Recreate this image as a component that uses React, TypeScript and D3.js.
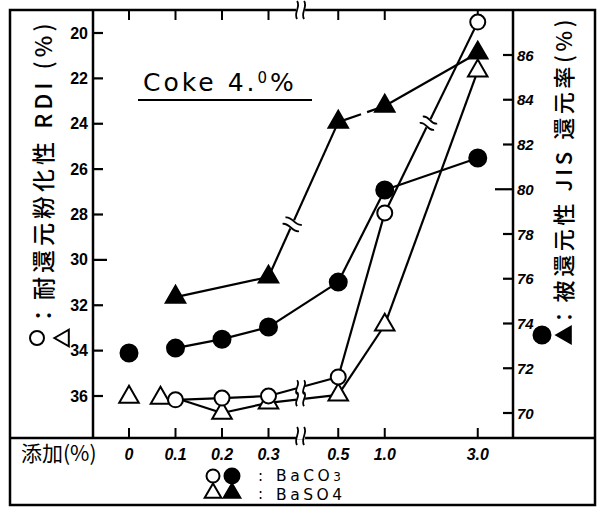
import React from "react";
import * as d3 from "d3";

// ---------- data ----------
const xValues = [0, 0.1, 0.2, 0.3, 0.5, 1.0, 3.0];
const xTickLabels = ["0", "0.1", "0.2", "0.3", "0.5", "1.0", "3.0"];
const leftTicks = [20, 22, 24, 26, 28, 30, 32, 34, 36];
const rightTicks = [70, 72, 74, 76, 78, 80, 82, 84, 86];

const rdiBlank = 36.05; // open triangle at 0 %
const jisBlank = 72.68; // filled circle at 0 %

const addAll = [0.1, 0.2, 0.3, 0.5, 1.0, 3.0];
const rdiBaCO3 = [36.17, 36.09, 36.0, 35.16, 27.93, 19.52];
const rdiBaSO4 = [36.09, 36.75, 36.3, 35.95, 32.87, 21.67];
const jisBaCO3 = [72.9, 73.3, 73.84, 75.85, 79.97, 81.4];
const addSO4Jis = [0.1, 0.3, 0.5, 1.0, 3.0];
const jisBaSO4 = [75.18, 76.08, 83.0, 83.72, 86.09];

// ---------- layout ----------
const W = 600;
const H = 507;
const frame = { l: 10, t: 10, r: 595, b: 505 };
const plot = { l: 93, r: 513, t: 10, b: 438 };
const xSlots = [0, 1, 2, 3, 4.5, 5.5, 7.5];
const slotW = 46.5;
const x0 = 129;

const xScale = d3.scaleLinear().domain(xValues).range(xSlots.map((s) => x0 + s * slotW));
const yL = d3.scaleLinear().domain([20, 36]).range([33, 396]);
const yR = d3.scaleLinear().domain([70, 86]).range([413, 55]);

const LW = 2.2;
const FONT_NUM = "'Liberation Sans', Arial, sans-serif";
const FONT_CJK = "'Noto Sans CJK JP', 'Noto Sans', sans-serif";
const FONT_HAND = "'DejaVu Sans', sans-serif";

type P = [number, number];

function sCurve(c: P, d: P, n: P, L: number, a: number, key: string) {
  const s: P = [c[0] - n[0] * L / 2, c[1] - n[1] * L / 2];
  const e: P = [c[0] + n[0] * L / 2, c[1] + n[1] * L / 2];
  const c1: P = [s[0] + n[0] * L / 3 + d[0] * a, s[1] + n[1] * L / 3 + d[1] * a];
  const c2: P = [s[0] + n[0] * 2 * L / 3 - d[0] * a, s[1] + n[1] * 2 * L / 3 - d[1] * a];
  return (
    <path
      key={key}
      d={`M${s[0]},${s[1]} C${c1[0]},${c1[1]} ${c2[0]},${c2[1]} ${e[0]},${e[1]}`}
      fill="none"
      stroke="#000"
      strokeWidth={1.8}
    />
  );
}

function breakMark(c: P, d: P, L: number, gap: number, key: string, n0?: P) {
  const n: P = n0 || [-d[1], d[0]];
  const a: P = [c[0] - d[0] * gap / 2, c[1] - d[1] * gap / 2];
  const b: P = [c[0] + d[0] * gap / 2, c[1] + d[1] * gap / 2];
  return (
    <g key={key}>
      <line x1={a[0] - d[0]} y1={a[1] - d[1]} x2={b[0] + d[0]} y2={b[1] + d[1]} stroke="#fff" strokeWidth={6} />
      {sCurve(a, d, n, L, 4, key + "a")}
      {sCurve(b, d, n, L, 4, key + "b")}
    </g>
  );
}

type Brk = { kind: "wave"; t: number; L?: number; vertical?: boolean } | { kind: "gap"; t0: number; t1: number };

function segments(pts: P[], breaks: Record<number, Brk>, key: string) {
  const out: any[] = [];
  for (let i = 0; i < pts.length - 1; i++) {
    const p = pts[i];
    const q = pts[i + 1];
    const dx = q[0] - p[0];
    const dy = q[1] - p[1];
    const len = Math.hypot(dx, dy);
    const d: P = [dx / len, dy / len];
    const b = breaks[i];
    const at = (t: number): P => [p[0] + dx * t, p[1] + dy * t];
    if (b && b.kind === "gap") {
      const a = at(b.t0);
      const c = at(b.t1);
      out.push(<line key={key + i + "g1"} x1={p[0]} y1={p[1]} x2={a[0]} y2={a[1]} stroke="#000" strokeWidth={LW} />);
      out.push(<line key={key + i + "g2"} x1={c[0]} y1={c[1]} x2={q[0]} y2={q[1]} stroke="#000" strokeWidth={LW} />);
    } else {
      out.push(<line key={key + i} x1={p[0]} y1={p[1]} x2={q[0]} y2={q[1]} stroke="#000" strokeWidth={LW} />);
      if (b && b.kind === "wave") {
        const c = at(b.t);
        const n: P | undefined = b.vertical ? [0, 1] : undefined;
        const dd: P = b.vertical ? [1, 0] : d;
        out.push(breakMark(c, dd, b.L || 16, 7, key + i + "w", n));
      }
    }
  }
  return out;
}

const triPath = d3.symbol().type(d3.symbolTriangle).size(165)() as string;
const triSmall = d3.symbol().type(d3.symbolTriangle).size(120)() as string;

function Circle({ x, y, filled, r = 8 }: { x: number; y: number; filled: boolean; r?: number }) {
  return <circle cx={x} cy={y} r={filled ? r + 0.5 : r - 0.5} fill={filled ? "#000" : "#fff"} stroke="#000" strokeWidth={2} />;
}
function Tri({ x, y, filled, path = triPath, rot = 0 }: { x: number; y: number; filled: boolean; path?: string; rot?: number }) {
  return (
    <path
      d={path}
      transform={`translate(${x},${y}) rotate(${rot})`}
      fill={filled ? "#000" : "#fff"}
      stroke="#000"
      strokeWidth={2}
      strokeLinejoin="miter"
    />
  );
}

export default function App() {
  const ptsRdiCO3: P[] = addAll.map((a, i) => [xScale(a), yL(rdiBaCO3[i])]);
  const ptsRdiSO4: P[] = addAll.map((a, i) => [xScale(a), yL(rdiBaSO4[i])]);
  const ptsJisCO3: P[] = addAll.map((a, i) => [xScale(a), yR(jisBaCO3[i])]);
  const ptsJisSO4: P[] = addSO4Jis.map((a, i) => [xScale(a), yR(jisBaSO4[i])]);

  const tBreak = 0.46;
  const xBreak = xScale(0.3) + tBreak * (xScale(0.5) - xScale(0.3));

  return (
    <svg width={W} height={H} style={{ position: "absolute", left: 0, top: 0, background: "#fff" }}>
      <rect x={0} y={0} width={W} height={H} fill="#fff" />
      {/* frame */}
      <rect x={frame.l} y={frame.t} width={frame.r - frame.l} height={frame.b - frame.t} fill="none" stroke="#000" strokeWidth={2.5} />
      <line x1={plot.l} y1={plot.t} x2={plot.l} y2={plot.b} stroke="#000" strokeWidth={2.5} />
      <line x1={plot.r} y1={plot.t} x2={plot.r} y2={plot.b} stroke="#000" strokeWidth={2.5} />
      <line x1={frame.l} y1={plot.b} x2={frame.r} y2={plot.b} stroke="#000" strokeWidth={2.5} />

      {/* x ticks top and bottom */}
      {xValues.map((v) => (
        <g key={"xt" + v}>
          <line x1={xScale(v)} y1={plot.t} x2={xScale(v)} y2={plot.t + 10} stroke="#000" strokeWidth={2} />
          <line x1={xScale(v)} y1={plot.b} x2={xScale(v)} y2={plot.b - 10} stroke="#000" strokeWidth={2} />
        </g>
      ))}
      {breakMark([xBreak, plot.t], [1, 0], 18, 7, "axbt", [0, 1])}
      {breakMark([xBreak, plot.b - 2], [1, 0], 18, 7, "axbb", [0, 1])}

      {/* left axis */}
      {leftTicks.map((v) => (
        <g key={"lt" + v}>
          <line x1={plot.l} y1={yL(v)} x2={plot.l + (v === 30 ? 14 : 10)} y2={yL(v)} stroke="#000" strokeWidth={2.2} />
          <text x={plot.l - 5} y={yL(v)} textAnchor="end" dominantBaseline="central" fontFamily={FONT_NUM} fontWeight="bold" fontSize={16}>
            {v}
          </text>
        </g>
      ))}
      {/* right axis */}
      {rightTicks.map((v) => (
        <g key={"rt" + v}>
          <line x1={plot.r} y1={yR(v)} x2={plot.r - (v === 80 ? 18 : 10)} y2={yR(v)} stroke="#000" strokeWidth={2.2} />
          <text x={plot.r + 4} y={yR(v)} textAnchor="start" dominantBaseline="central" fontFamily={FONT_NUM} fontWeight="bold" fontStyle="italic" fontSize={15}>
            {v}
          </text>
        </g>
      ))}

      {/* title */}
      <text x={143} y={91} fontFamily={FONT_HAND} fontSize={25} letterSpacing={3}>
        Coke 4.<tspan fontSize={15} dy={-8}>0</tspan>
        <tspan dy={8}>%</tspan>
      </text>
      <line x1={138} y1={100} x2={312} y2={100} stroke="#000" strokeWidth={2} />

      {/* data lines */}
      {segments(ptsJisSO4, { 1: { kind: "wave", t: 0.34, L: 18 }, 2: { kind: "gap", t0: 0.49, t1: 0.62 } }, "js")}
      {segments(ptsJisCO3, {}, "jc")}
      {segments(ptsRdiSO4, { 2: { kind: "wave", t: tBreak, L: 14, vertical: true } }, "rs")}
      {segments(ptsRdiCO3, { 2: { kind: "wave", t: tBreak, L: 14, vertical: true }, 4: { kind: "wave", t: 0.47, L: 16 } }, "rc")}

      {/* markers */}
      <Tri x={xScale(0)} y={yL(rdiBlank)} filled={false} />
      <Circle x={xScale(0)} y={yR(jisBlank)} filled={true} />
      {ptsRdiSO4.map((p, i) => (
        <Tri key={"mrs" + i} x={p[0] + (i === 0 ? -15 : 0)} y={p[1]} filled={false} />
      ))}
      {ptsRdiCO3.map((p, i) => (
        <Circle key={"mrc" + i} x={p[0]} y={p[1]} filled={false} />
      ))}
      {ptsJisSO4.map((p, i) => (
        <Tri key={"mjs" + i} x={p[0]} y={p[1]} filled={true} />
      ))}
      {ptsJisCO3.map((p, i) => (
        <Circle key={"mjc" + i} x={p[0]} y={p[1]} filled={true} />
      ))}

      {/* left axis title */}
      <Circle x={37} y={338} filled={false} r={7.5} />
      <Tri x={64} y={338} filled={false} path={triSmall} rot={-90} />
      <text
        transform="translate(42,327) rotate(-90)"
        dominantBaseline="central"
        fontFamily={FONT_CJK}
        fontWeight={500}
        fontSize={23}
        letterSpacing={4}
      >
        ：耐還元粉化性 RDI (%)
      </text>

      {/* right axis title */}
      <Circle x={542} y={335} filled={true} r={8} />
      <Tri x={566} y={335} filled={true} path={triSmall} rot={-90} />
      <text
        transform="translate(562,328) rotate(-90)"
        dominantBaseline="central"
        fontFamily={FONT_CJK}
        fontWeight={500}
        fontSize={22}
        letterSpacing={3.6}
      >
        ：被還元性 JIS 還元率(%)
      </text>

      {/* x labels */}
      <text x={21} y={461} fontFamily={FONT_CJK} fontSize={21}>
        添加(%)
      </text>
      {xValues.map((v, i) => (
        <text key={"xl" + v} x={xScale(v)} y={460} textAnchor="middle" fontFamily={FONT_NUM} fontStyle="italic" fontWeight="bold" fontSize={16}>
          {xTickLabels[i]}
        </text>
      ))}

      {/* legend */}
      <Circle x={213} y={476} filled={false} r={7} />
      <Circle x={232} y={476} filled={true} r={7} />
      <Tri x={213} y={493} filled={false} path={triSmall} />
      <Tri x={232} y={493} filled={true} path={triSmall} />
      <text x={258} y={481} fontFamily={FONT_HAND} fontSize={15}>:</text>
      <text x={258} y={499} fontFamily={FONT_HAND} fontSize={15}>:</text>
      <text x={276} y={481} fontFamily={FONT_HAND} fontSize={15.5} letterSpacing={3.5}>
        BaCO<tspan fontSize={12}>3</tspan>
      </text>
      <text x={276} y={499.5} fontFamily={FONT_HAND} fontSize={15.5} letterSpacing={3.5}>
        BaSO4
      </text>
    </svg>
  );
}
